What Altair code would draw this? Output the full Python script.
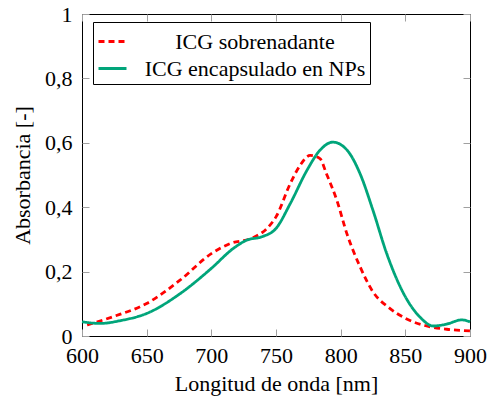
import altair as alt
import pandas as pd

# Green: ICG encapsulado en NPs
nm_enc = [600, 614, 630, 650, 676, 700, 717, 727.5, 739, 750, 761, 774, 784, 794, 805, 815, 825, 835.6, 850, 861, 871.6, 882, 893.6, 900]
ab_enc = [0.044, 0.039, 0.048, 0.070, 0.132, 0.21, 0.272, 0.298, 0.308, 0.334, 0.411, 0.515, 0.577, 0.602, 0.577, 0.504, 0.39, 0.256, 0.122, 0.06, 0.031, 0.037, 0.050, 0.044]
# Red dashed: ICG sobrenadante
nm_sob = [604, 624, 650, 676, 700, 714.6, 732.6, 743, 750, 761, 768.6, 776.4, 784, 789, 797, 804.8, 815, 825, 838, 850, 866.5, 882, 900]
ab_sob = [0.034, 0.06, 0.101, 0.174, 0.256, 0.287, 0.306, 0.334, 0.37, 0.473, 0.53, 0.561, 0.551, 0.504, 0.422, 0.318, 0.215, 0.137, 0.086, 0.055, 0.031, 0.021, 0.016]

series = ["ICG sobrenadante", "ICG encapsulado en NPs"]
colors = ["#ff0000", "#00a57a"]
dashes = [[6, 4], [1, 0]]

x_ticks = [600, 650, 700, 750, 800, 850, 900]
y_ticks = [0, 0.2, 0.4, 0.6, 0.8, 1]

df = pd.concat([
    pd.DataFrame({"nm": nm_sob, "ab": ab_sob, "serie": series[0], "o": 0}),
    pd.DataFrame({"nm": nm_enc, "ab": ab_enc, "serie": series[1], "o": 1}),
])

FONT = "Liberation Serif"
FS = 22
TICKC = "#a0a0a0"
TS = 7

base = alt.Chart(df)

line = base.mark_line(strokeWidth=2.8, interpolate="monotone").encode(
    x=alt.X("nm:Q", scale=alt.Scale(domain=[600, 900], nice=False, zero=False),
            axis=alt.Axis(orient="bottom", values=x_ticks, domain=False, grid=False,
                          tickSize=TS, tickColor=TICKC, offset=-TS,
                          labelPadding=TS + 2, labelFont=FONT, labelFontSize=FS,
                          labelColor="black", labelFlush=False,
                          title="Longitud de onda [nm]", titleFont=FONT,
                          titleFontSize=FS, titleFontWeight="normal",
                          titleColor="black", titlePadding=7)),
    y=alt.Y("ab:Q", scale=alt.Scale(domain=[0, 1], nice=False),
            axis=alt.Axis(orient="left", values=y_ticks, domain=False, grid=False,
                          tickSize=TS, tickColor=TICKC, offset=-TS,
                          labelPadding=TS + 3, labelFont=FONT, labelFontSize=FS,
                          labelColor="black", labelFlush=False,
                          labelExpr="replace(format(datum.value, '.1~f'), '.', ',')",
                          title="Absorbancia [-]", titleFont=FONT,
                          titleFontSize=FS, titleFontWeight="normal",
                          titleColor="black", titlePadding=10)),
    color=alt.Color("serie:N", scale=alt.Scale(domain=series, range=colors),
                    legend=alt.Legend(orient="none", legendX=11, legendY=8,
                                      title=None, symbolType="stroke",
                                      symbolSize=784, symbolStrokeWidth=3,
                                      labelFont=FONT, labelFontSize=FS,
                                      labelColor="black",
                                      labelAlign="center", labelOffset=127,
                                      strokeColor="black", fillColor="white",
                                      padding=4, rowPadding=0,
                                      labelLimit=400)),
    strokeDash=alt.StrokeDash("serie:N", scale=alt.Scale(domain=series, range=dashes),
                              legend=None),
    order="o:Q",
)

# mirrored inward ticks on top and right
top = base.mark_line(opacity=0).encode(
    x=alt.X("nm:Q", scale=alt.Scale(domain=[600, 900], nice=False, zero=False),
            axis=alt.Axis(orient="top", values=x_ticks, domain=False, grid=False,
                          tickSize=TS, tickColor=TICKC, offset=-TS, labels=False,
                          title=None)),
    y=alt.Y("ab:Q", scale=alt.Scale(domain=[0, 1], nice=False),
            axis=alt.Axis(orient="right", values=y_ticks, domain=False, grid=False,
                          tickSize=TS, tickColor=TICKC, offset=-TS, labels=False,
                          title=None)),
)

chart = alt.layer(line, top).resolve_axis(x="independent", y="independent").properties(
    width=388, height=322,
    autosize=alt.AutoSizeParams(type="none"),
    padding={"left": 82, "top": 14, "right": 18, "bottom": 65},
).configure_view(stroke="black", strokeWidth=1)

chart.save("out.html", embed_options={"renderer": "svg", "actions": False})
